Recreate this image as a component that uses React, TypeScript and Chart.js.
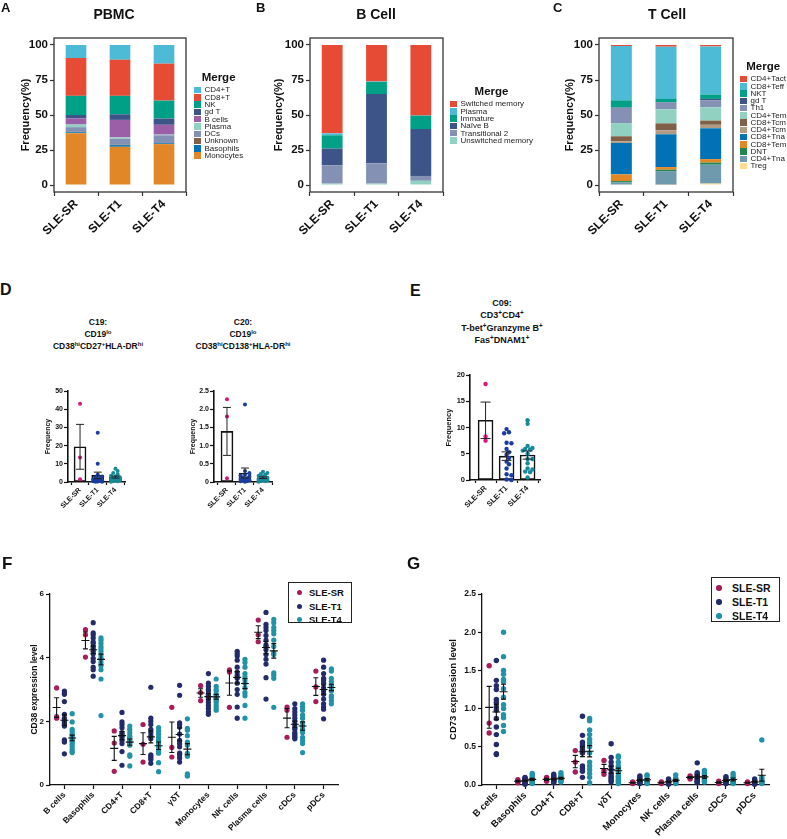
import React, { useEffect, useRef } from "react";
import { Chart, registerables } from "chart.js";

Chart.register(...registerables);

const FONT = "'Liberation Sans', Arial, Helvetica, sans-serif";
Chart.defaults.font.family = FONT;

// ---------- composition (stacked bars, values listed bottom to top) ----------
const stackGroups = ["SLE-SR", "SLE-T1", "SLE-T4"];

const pbmcTypes = ["Monocytes", "Basophils", "Unknown", "DCs", "Plasma", "B cells", "gd T", "NK", "CD8+T", "CD4+T"];
const pbmcColors = ["#E18727", "#0072B5", "#7E6148", "#8491B4", "#91D1C2", "#9B5FA8", "#3C5488", "#00A087", "#E64B35", "#4DBBD5"];
const pbmcSR = [37, 0.7, 0.3, 3.3, 1.9, 4.3, 2.5, 13.7, 27, 9.3];
const pbmcT1 = [27.3, 1.2, 0.3, 4.2, 1.0, 12.5, 4, 13.2, 25.8, 10.5];
const pbmcT4 = [29.2, 0.6, 0.2, 5.5, 0.5, 7, 4.5, 12.8, 26.4, 13.3];

const bcellTypes = ["Unswitched memory", "Transitional 2", "Naïve B", "Immature", "Plasma", "Switched memory"];
const bcellColors = ["#91D1C2", "#8491B4", "#3C5488", "#00A087", "#4DBBD5", "#E64B35"];
const bcellSR = [1, 13, 12, 9.5, 1.4, 63.1];
const bcellT1 = [1, 14.5, 49.5, 8.7, 0.3, 26];
const bcellT4 = [3, 3.5, 33.5, 9.5, 0.2, 50.3];

const tcellTypes = ["Treg", "CD4+Tna", "DNT", "CD8+Tem", "CD8+Tna", "CD4+Tcm", "CD8+Tcm", "CD4+Tem", "Th1", "gd T", "NKT", "CD8+Teff", "CD4+Tact"];
const tcellColors = ["#FFDC91", "#6F99AD", "#20854E", "#E18727", "#0072B5", "#B09C85", "#7E6148", "#91D1C2", "#8491B4", "#3C5488", "#00A087", "#4DBBD5", "#E64B35"];
const tcellSR = [0.3, 1.5, 1.0, 4.8, 22.4, 1.2, 3.6, 9.4, 10.9, 0.2, 5.2, 38.8, 0.7];
const tcellT1 = [0.2, 9.7, 1.0, 1.9, 23.4, 2.8, 5.0, 10.1, 4.7, 0.3, 2.4, 37.3, 1.2];
const tcellT4 = [1, 13.5, 1.5, 2.5, 22, 2.5, 3, 9.5, 5, 1, 3, 34.5, 1];

// ---------- cluster frequencies (per sample) ----------
const c19SR = [43, 13.5, 1.5];
const c19T1 = [27, 10, 4, 3, 2.5, 2, 1.5, 1.2, 1, 0.8, 0.5, 0.4, 0.3, 0.2, 0.1];
const c19T4 = [7.3, 6.0, 5.0, 4.2, 3.5, 3.0, 2.6, 2.2, 1.8, 1.5, 1.2, 0.9, 0.6, 0.4, 0.2];

const c20SR = [2.27, 1.8, 0.1];
const c20T1 = [2.13, 0.3, 0.25, 0.2, 0.18, 0.15, 0.12, 0.1, 0.08, 0.06, 0.05, 0.04, 0.03, 0.02, 0.01];
const c20T4 = [0.28, 0.25, 0.22, 0.2, 0.17, 0.15, 0.12, 0.1, 0.08, 0.06, 0.05, 0.04, 0.03, 0.02, 0.01];

const c09SR = [18.3, 8.3, 7.5];
const c09T1 = [9.7, 9.1, 8.9, 7.1, 7.0, 5.9, 5.3, 4.8, 4.2, 3.5, 3.0, 2.2, 1.1, 0.9, 0.1, 0.0];
const c09T4 = [11.4, 10.7, 6.5, 6.1, 5.9, 5.8, 5.6, 5.0, 4.0, 4.0, 3.2, 2.2, 2.0, 1.6, 1.5, 0.5];

const prismColors = ["#D4177A", "#1A3E9F", "#18899A"];

// ---------- CD38 / CD73 expression per cell type ----------
const cellTypes = ["B cells", "Basophils", "CD4+T", "CD8+T", "γδT", "Monocytes", "NK cells", "Plasma cells", "cDCs", "pDCs"];
const exprGroups = ["SLE-SR", "SLE-T1", "SLE-T4"];
const exprColors = ["#A81C58", "#232B68", "#2292A7"];

const cd38SR = [
  [3.05, 2.15, 2.1],
  [4.88, 4.72, 4.02],
  [1.7, 1.32, 0.43],
  [1.9, 1.28, 0.72],
  [2.44, 1.18, 0.88],
  [3.12, 2.9, 2.65],
  [3.62, 3.55, 2.44],
  [5.18, 4.72, 4.5],
  [2.45, 2.35, 1.5],
  [3.58, 3.08, 2.62],
];
const cd38T1 = [
  [2.95, 2.9, 2.85, 2.62, 2.22, 2.1, 2.02, 1.95, 1.9, 1.85, 1.42, 1.38, 1.35, 0.98],
  [5.1, 4.78, 4.72, 4.62, 4.5, 4.45, 4.35, 4.28, 4.2, 4.12, 3.98, 3.88, 3.7, 3.62, 3.42],
  [2.28, 1.98, 1.9, 1.8, 1.65, 1.6, 1.55, 1.5, 1.4, 1.3, 1.05, 0.62],
  [3.07, 2.1, 2.0, 1.9, 1.75, 1.65, 1.55, 1.45, 0.95, 0.9, 0.85, 0.8, 0.68],
  [3.13, 2.82, 1.95, 1.9, 1.82, 1.6, 1.4, 1.3, 1.2, 1.0, 0.95, 0.85, 0.72],
  [3.5, 3.2, 3.1, 3.0, 2.95, 2.85, 2.8, 2.75, 2.7, 2.6, 2.5, 2.4, 2.3, 2.22],
  [4.2, 4.12, 4.05, 3.92, 3.7, 3.55, 3.45, 3.35, 3.2, 3.0, 2.85, 2.45, 2.1],
  [5.42, 5.05, 4.95, 4.85, 4.7, 4.55, 4.4, 4.35, 4.25, 4.1, 3.95, 3.8, 3.37, 2.7],
  [2.55, 2.4, 2.3, 2.2, 2.1, 2.0, 1.9, 1.8, 1.75, 1.65, 1.6, 1.55, 1.5, 1.45],
  [3.92, 3.7, 3.5, 3.35, 3.3, 3.2, 3.05, 2.95, 2.85, 2.7, 2.55, 2.45, 2.38, 2.08],
];
const cd38T4 = [
  [2.24, 1.98, 1.75, 1.68, 1.6, 1.55, 1.5, 1.45, 1.4, 1.35, 1.28, 1.2, 1.12, 1.05, 1.02],
  [4.62, 4.55, 4.45, 4.35, 4.28, 4.2, 4.1, 4.0, 3.95, 3.85, 3.75, 3.62, 3.33, 2.18],
  [1.85, 1.75, 1.65, 1.55, 1.5, 1.45, 1.4, 1.35, 1.3, 1.25, 0.95, 0.9, 0.6],
  [1.8, 1.7, 1.6, 1.5, 1.4, 1.3, 1.2, 1.1, 1.05, 1.0, 0.7, 0.42],
  [2.08, 1.78, 1.72, 1.55, 1.35, 1.25, 1.0, 0.95, 0.9, 0.35, 0.3, 0.28],
  [3.33, 3.1, 3.0, 2.95, 2.85, 2.8, 2.75, 2.7, 2.65, 2.6, 2.5, 2.42, 2.35],
  [3.95, 3.85, 3.7, 3.5, 3.4, 3.3, 3.2, 3.05, 2.9, 2.8, 2.5, 2.1],
  [5.2, 5.1, 4.95, 4.85, 4.75, 4.55, 4.35, 4.15, 4.1, 3.52, 3.45, 3.35, 2.44],
  [2.55, 2.45, 2.35, 2.2, 2.1, 1.95, 1.85, 1.75, 1.65, 1.5, 1.4, 1.3, 1.02],
  [3.65, 3.58, 3.35, 3.25, 3.15, 3.1, 3.0, 2.95, 2.8, 2.75, 2.65, 2.55],
];

const cd73SR = [
  [1.56, 0.81, 0.68],
  [0.07, 0.05, 0.03],
  [0.1, 0.07, 0.05],
  [0.45, 0.3, 0.17],
  [0.32, 0.19, 0.14],
  [0.04, 0.03, 0.02],
  [0.04, 0.03, 0.02],
  [0.12, 0.1, 0.08],
  [0.05, 0.03, 0.02],
  [0.04, 0.03, 0.02],
];
const cd73T1 = [
  [1.63, 1.37, 1.3, 1.25, 1.12, 1.08, 1.02, 0.98, 0.87, 0.76, 0.66, 0.53, 0.41, 0.4],
  [0.1, 0.09, 0.08, 0.07, 0.06, 0.05, 0.04, 0.03, 0.02, 0.01],
  [0.14, 0.12, 0.1, 0.09, 0.08, 0.07, 0.06, 0.05, 0.04, 0.03],
  [0.9, 0.65, 0.56, 0.53, 0.5, 0.47, 0.45, 0.42, 0.25, 0.22, 0.18, 0.1],
  [0.54, 0.36, 0.3, 0.25, 0.2, 0.15, 0.12, 0.1, 0.08, 0.06, 0.04],
  [0.12, 0.1, 0.08, 0.06, 0.05, 0.04, 0.03, 0.02],
  [0.08, 0.07, 0.05, 0.04, 0.03, 0.02, 0.01],
  [0.29, 0.16, 0.14, 0.12, 0.1, 0.08, 0.06, 0.05, 0.04, 0.03],
  [0.11, 0.09, 0.07, 0.05, 0.04, 0.03, 0.02],
  [0.08, 0.06, 0.05, 0.04, 0.03, 0.02, 0.01],
];
const cd73T4 = [
  [2.0, 1.68, 1.5, 1.45, 1.38, 1.35, 1.26, 1.15, 1.05, 1.0, 0.92, 0.88, 0.78, 0.7],
  [0.15, 0.13, 0.1, 0.08, 0.07, 0.06, 0.05, 0.04, 0.03, 0.02],
  [0.16, 0.13, 0.11, 0.09, 0.08, 0.07, 0.06, 0.05, 0.04],
  [0.87, 0.84, 0.72, 0.66, 0.6, 0.55, 0.5, 0.42, 0.3, 0.25, 0.2, 0.15, 0.1, 0.03],
  [0.38, 0.36, 0.3, 0.25, 0.22, 0.2, 0.16, 0.12, 0.1, 0.07, 0.05, 0.02],
  [0.13, 0.12, 0.08, 0.06, 0.04, 0.03, 0.02],
  [0.13, 0.09, 0.07, 0.05, 0.04, 0.03, 0.02],
  [0.19, 0.16, 0.14, 0.11, 0.09, 0.07, 0.05, 0.04],
  [0.15, 0.12, 0.09, 0.06, 0.04, 0.03, 0.02],
  [0.59, 0.1, 0.07, 0.05, 0.04, 0.03, 0.02],
];

// ---------- helpers ----------
type Box = { left: number; top: number; width: number; height: number };
type Area = { l: number; t: number; r: number; b: number };

// Pins the plot area of a chart to fixed page coordinates.
function fitLayout(box: Box, area: Area, padLeft: number) {
  return {
    padding: { left: padLeft, top: area.t - box.top, right: box.left + box.width - area.r, bottom: 0 },
    yWidth: area.l - box.left - padLeft,
    xHeight: box.top + box.height - area.b,
  };
}

function meanSem(values: number[]) {
  const n = values.length;
  const mean = values.reduce((a, b) => a + b, 0) / n;
  const sd = Math.sqrt(values.reduce((a, v) => a + (v - mean) * (v - mean), 0) / (n - 1));
  return { mean, sem: sd / Math.sqrt(n) };
}

// Horizontal offsets (px) for a dot column: dots with close values are spread
// sideways, but never further than maxSpread from the column centre.
function swarm(values: number[], pxPerY: number, dot: number, maxSpread: number): number[] {
  const idx = values.map((_, i) => i).sort((a, b) => values[b] - values[a]);
  const placed: [number, number][] = [];
  const out = new Array(values.length).fill(0);
  const step = dot * 0.55;
  const cands: number[] = [0];
  for (let k = 1; k * step <= maxSpread; k++) cands.push(k * step, -k * step);
  for (const i of idx) {
    const y = values[i] * pxPerY;
    let best = 0;
    let bestGap = -1;
    for (const x of cands) {
      const gap = placed.reduce((m, [px, py]) => Math.min(m, Math.hypot(px - x, py - y)), Infinity);
      if (gap >= dot * 0.75) { best = x; bestGap = Infinity; break; }
      if (gap > bestGap) { bestGap = gap; best = x; }
    }
    out[i] = best;
    placed.push([best, y]);
  }
  return out;
}

const framePlugin = {
  id: "frame",
  afterDraw(chart: any) {
    const { ctx, chartArea: a } = chart;
    ctx.save();
    ctx.strokeStyle = "#333";
    ctx.lineWidth = 1.3;
    ctx.strokeRect(a.left, a.top, a.right - a.left, a.bottom - a.top);
    ctx.restore();
  },
};

const errorBarPlugin = {
  id: "errorBars",
  afterDatasetsDraw(chart: any, _args: any, opts: any) {
    if (!opts || !opts.groups) return;
    const { ctx } = chart;
    const xs = chart.scales.x;
    const ys = chart.scales.y;
    ctx.save();
    ctx.strokeStyle = opts.color || "#111";
    ctx.lineWidth = opts.lineWidth || 1;
    for (const g of opts.groups as { x: number; values: number[] }[]) {
      const { mean, sem } = meanSem(g.values);
      const px = xs.getPixelForValue(g.x);
      const yTop = ys.getPixelForValue(mean + sem);
      const yBot = ys.getPixelForValue(Math.max(0, mean - sem));
      const yMid = ys.getPixelForValue(mean);
      ctx.beginPath();
      ctx.moveTo(px, yTop);
      ctx.lineTo(px, yBot);
      ctx.moveTo(px - opts.cap, yTop);
      ctx.lineTo(px + opts.cap, yTop);
      ctx.moveTo(px - opts.cap, yBot);
      ctx.lineTo(px + opts.cap, yBot);
      if (opts.meanHalf) {
        ctx.moveTo(px - opts.meanHalf, yMid);
        ctx.lineTo(px + opts.meanHalf, yMid);
      }
      ctx.stroke();
    }
    ctx.restore();
  },
};

function stackedConfig(types: string[], colors: string[], groups: number[][], box: Box, area: Area, padLeft: number) {
  const fit = fitLayout(box, area, padLeft);
  return {
    type: "bar",
    data: {
      labels: stackGroups,
      datasets: types.map((t, k) => ({
        label: t,
        data: groups.map((g) => g[k]),
        backgroundColor: colors[k],
        borderWidth: 0,
        categoryPercentage: 1,
        barPercentage: 0.47,
      })),
    },
    options: {
      responsive: false,
      animation: false,
      layout: { padding: fit.padding },
      plugins: { legend: { display: false }, tooltip: { enabled: false } },
      scales: {
        x: {
          stacked: true,
          grid: { display: true, drawOnChartArea: false, tickLength: 4, tickColor: "#333", tickWidth: 1.2 },
          border: { display: false },
          ticks: { minRotation: 45, maxRotation: 45, color: "#111", padding: 1, font: { size: 12, weight: "bold" } },
          afterFit: (s: any) => { s.height = fit.xHeight; },
        },
        y: {
          stacked: true,
          min: -5,
          max: 105,
          grid: { display: true, drawOnChartArea: false, tickLength: 4, tickColor: "#333", tickWidth: 1.2 },
          border: { display: false },
          ticks: { stepSize: 25, includeBounds: false, color: "#111", padding: 2, font: { size: 11.5, weight: "bold" } },
          title: { display: true, text: "Frequency(%)", color: "#111", font: { size: 11, weight: "bold" } },
          afterFit: (s: any) => { s.width = fit.yWidth; },
        },
      },
    },
    plugins: [framePlugin],
  };
}

function dotBarConfig(o: {
  box: Box; area: Area; padLeft: number; xMin: number; xMax: number;
  yMax: number; yStep: number; groups: number[][]; barPx: number; dotR: number; cap: number; font: number; spread: number;
}) {
  const fit = fitLayout(o.box, o.area, o.padLeft);
  const pxPerY = (o.area.b - o.area.t) / o.yMax;
  const pxPerX = (o.area.r - o.area.l) / (o.xMax - o.xMin);
  const stats = o.groups.map(meanSem);
  return {
    type: "bar",
    data: {
      datasets: [
        {
          type: "bar",
          data: stats.map((s, i) => ({ x: i + 1, y: s.mean })),
          backgroundColor: "#fff",
          borderColor: "#111",
          borderWidth: 1.6,
          borderSkipped: false,
          barThickness: o.barPx,
          grouped: false,
          order: 3,
        },
        ...o.groups.map((vals, g) => {
          const offs = swarm(vals, pxPerY, o.dotR * 2, o.spread);
          return {
            type: "scatter",
            data: vals.map((v, k) => ({ x: g + 1 + offs[k] / pxPerX, y: v })),
            backgroundColor: prismColors[g],
            borderWidth: 0,
            pointRadius: o.dotR,
            order: 1,
            clip: false,
          };
        }),
      ],
    },
    options: {
      responsive: false,
      animation: false,
      layout: { padding: fit.padding },
      plugins: {
        legend: { display: false },
        tooltip: { enabled: false },
        errorBars: { groups: o.groups.map((v, i) => ({ x: i + 1, values: v })), cap: o.cap, lineWidth: 1, color: "#222" },
      },
      scales: {
        x: {
          type: "linear",
          min: o.xMin,
          max: o.xMax,
          offset: false,
          afterBuildTicks: (s: any) => { s.ticks = [1, 2, 3].map((v) => ({ value: v })); },
          grid: { display: true, drawOnChartArea: false, tickLength: 3, tickColor: "#111", tickWidth: 1.2 },
          border: { color: "#111", width: 1.6 },
          ticks: {
            autoSkip: false, minRotation: 45, maxRotation: 45, color: "#111", padding: 1,
            font: { size: o.font, weight: "bold" },
            callback: (v: number) => stackGroups[Math.round(v) - 1],
          },
          afterFit: (s: any) => { s.height = fit.xHeight; },
        },
        y: {
          min: 0,
          max: o.yMax,
          grid: { display: true, drawOnChartArea: false, tickLength: 4, tickColor: "#111", tickWidth: 1.2 },
          border: { color: "#111", width: 1.6 },
          ticks: { stepSize: o.yStep, color: "#111", padding: 1, font: { size: o.font, weight: "bold" } },
          title: { display: true, text: "Frequency", color: "#111", font: { size: o.font, weight: "bold" } },
          afterFit: (s: any) => { s.width = fit.yWidth; },
        },
      },
    },
    plugins: [errorBarPlugin],
  };
}

function exprConfig(o: {
  box: Box; area: Area; padLeft: number; yMax: number; yStep: number; decimals: number;
  title: string; sets: number[][][]; offset: number; dotR: number;
  tickFont: number; xFont: number; titleFont: number;
}) {
  const fit = fitLayout(o.box, o.area, o.padLeft);
  const offs = [-o.offset, 0, o.offset];
  const groups: { x: number; values: number[] }[] = [];
  o.sets.forEach((set, g) => set.forEach((vals, i) => groups.push({ x: i + offs[g], values: vals })));
  return {
    type: "scatter",
    data: {
      datasets: o.sets.map((set, g) => ({
        label: exprGroups[g],
        data: set.flatMap((vals, i) => vals.map((v) => ({ x: i + offs[g], y: v }))),
        backgroundColor: exprColors[g],
        borderWidth: 0,
        pointRadius: o.dotR,
        clip: false,
      })),
    },
    options: {
      responsive: false,
      animation: false,
      layout: { padding: fit.padding },
      plugins: {
        legend: { display: false },
        tooltip: { enabled: false },
        errorBars: { groups, cap: 2.5, meanHalf: 4, lineWidth: 1.1, color: "#111" },
      },
      scales: {
        x: {
          type: "linear",
          min: -0.5,
          max: 9.5,
          afterBuildTicks: (s: any) => { s.ticks = cellTypes.map((_, i) => ({ value: i })); },
          grid: { display: true, drawOnChartArea: false, tickLength: 4, tickColor: "#111", tickWidth: 1.2 },
          border: { color: "#111", width: 1.3 },
          ticks: {
            autoSkip: false, minRotation: 45, maxRotation: 45, color: "#111", padding: 1,
            font: { size: o.xFont, weight: "bold" },
            callback: (v: number) => cellTypes[Math.round(v)],
          },
          afterFit: (s: any) => { s.height = fit.xHeight; },
        },
        y: {
          min: 0,
          max: o.yMax,
          grid: { display: true, drawOnChartArea: false, tickLength: 4, tickColor: "#111", tickWidth: 1.2 },
          border: { color: "#111", width: 1.3 },
          ticks: {
            stepSize: o.yStep, color: "#111", padding: 2, font: { size: o.tickFont, weight: "bold" },
            callback: (v: number) => v.toFixed(o.decimals),
          },
          title: { display: true, text: o.title, color: "#111", font: { size: o.titleFont, weight: "bold" } },
          afterFit: (s: any) => { s.width = fit.yWidth; },
        },
      },
    },
    plugins: [errorBarPlugin],
  };
}

// ---------- components ----------
function ChartBox({ box, config }: { box: Box; config: () => any }) {
  const ref = useRef<HTMLCanvasElement>(null);
  useEffect(() => {
    const chart = new Chart(ref.current as HTMLCanvasElement, config());
    return () => chart.destroy();
  }, []);
  return (
    <canvas
      ref={ref}
      width={box.width}
      height={box.height}
      style={{ position: "absolute", left: box.left, top: box.top, width: box.width, height: box.height, display: "block" }}
    />
  );
}

function Text({ left, top, size, children, bold = true }: any) {
  return (
    <div style={{ position: "absolute", left, top, fontSize: size, fontWeight: bold ? "bold" : "normal", fontFamily: FONT, color: "#111", lineHeight: 1, whiteSpace: "nowrap" }}>
      {children}
    </div>
  );
}

function CenteredLines({ cx, top, size, lineH, lines }: { cx: number; top: number; size: number; lineH: number; lines: React.ReactNode[] }) {
  return (
    <div style={{ position: "absolute", left: cx - 100, top, width: 200, textAlign: "center", fontFamily: FONT, fontWeight: "bold", fontSize: size, color: "#111" }}>
      {lines.map((l, i) => (
        <div key={i} style={{ height: lineH, lineHeight: `${lineH}px` }}>{l}</div>
      ))}
    </div>
  );
}

const Sup = ({ children }: any) => <sup style={{ fontSize: "0.7em", lineHeight: 0, verticalAlign: "0.45em" }}>{children}</sup>;

function MergeLegend({ left, top, labels, colors, rowH }: { left: number; top: number; labels: string[]; colors: string[]; rowH: number }) {
  return (
    <div style={{ position: "absolute", left, top, display: "inline-block", fontFamily: FONT }}>
      <div style={{ fontWeight: "bold", fontSize: 11.5, lineHeight: "14px", textAlign: "center", color: "#111", marginBottom: 2.4 }}>Merge</div>
      {labels.map((l, i) => (
        <div key={l} style={{ display: "flex", alignItems: "center", height: rowH, fontSize: 8, lineHeight: `${rowH}px`, color: "#222", whiteSpace: "nowrap" }}>
          <span style={{ width: 6.5, height: 6.5, background: colors[i], marginRight: 4, flex: "none" }} />
          {l}
        </div>
      ))}
    </div>
  );
}

function GroupLegend({ left, top, width, height, rowH, dotX, textX, font, dot }: any) {
  return (
    <div style={{ position: "absolute", left, top, width, height, border: "1.6px solid #222", boxSizing: "border-box", fontFamily: FONT, background: "#fff" }}>
      {exprGroups.map((g, i) => (
        <div key={g} style={{ position: "absolute", left: 0, top: 3 + i * rowH, height: rowH, width: "100%" }}>
          <span style={{ position: "absolute", left: dotX - dot / 2, top: rowH / 2 - dot / 2, width: dot, height: dot, borderRadius: "50%", background: exprColors[i] }} />
          <span style={{ position: "absolute", left: textX, top: 0, lineHeight: `${rowH}px`, fontSize: font, fontWeight: "bold", color: "#111" }}>{g}</span>
        </div>
      ))}
    </div>
  );
}

const rev = <T,>(a: T[]) => a.slice().reverse();

export default function App() {
  const boxA = { left: 0, top: 0, width: 258, height: 250 };
  const boxB = { left: 258, top: 0, width: 266, height: 250 };
  const boxC = { left: 524, top: 0, width: 263, height: 250 };
  const boxD1 = { left: 20, top: 378, width: 125, height: 142 };
  const boxD2 = { left: 170, top: 378, width: 120, height: 142 };
  const boxE = { left: 420, top: 362, width: 140, height: 158 };
  const boxF = { left: 0, top: 570, width: 390, height: 269 };
  const boxG = { left: 400, top: 570, width: 387, height: 269 };

  return (
    <div style={{ position: "absolute", left: 0, top: 0, width: 787, height: 839, background: "#fff", overflow: "hidden" }}>
      <ChartBox box={boxA} config={() => stackedConfig(pbmcTypes, pbmcColors, [pbmcSR, pbmcT1, pbmcT4], boxA, { l: 54, t: 38, r: 186, b: 192 }, 15)} />
      <ChartBox box={boxB} config={() => stackedConfig(bcellTypes, bcellColors, [bcellSR, bcellT1, bcellT4], boxB, { l: 310, t: 38, r: 443, b: 192 }, 10)} />
      <ChartBox box={boxC} config={() => stackedConfig(tcellTypes, tcellColors, [tcellSR, tcellT1, tcellT4], boxC, { l: 599, t: 38, r: 733, b: 192 }, 35)} />

      <ChartBox box={boxD1} config={() => dotBarConfig({ box: boxD1, area: { l: 68, t: 391, r: 125, b: 482 }, padLeft: 20, xMin: 0.32, xMax: 3.54, yMax: 50, yStep: 10, groups: [c19SR, c19T1, c19T4], barPx: 12, dotR: 2, cap: 4, font: 7, spread: 5 })} />
      <ChartBox box={boxD2} config={() => dotBarConfig({ box: boxD2, area: { l: 214, t: 391, r: 272, b: 482 }, padLeft: 15, xMin: 0.28, xMax: 3.5, yMax: 2.5, yStep: 0.5, groups: [c20SR, c20T1, c20T4], barPx: 12, dotR: 2, cap: 4, font: 7, spread: 5 })} />
      <ChartBox box={boxE} config={() => dotBarConfig({ box: boxE, area: { l: 470, t: 375, r: 540, b: 480 }, padLeft: 20, xMin: 0.26, xMax: 3.59, yMax: 20, yStep: 5, groups: [c09SR, c09T1, c09T4], barPx: 15, dotR: 2.2, cap: 5, font: 7.5, spread: 7 })} />

      <ChartBox box={boxF} config={() => exprConfig({ box: boxF, area: { l: 50, t: 594, r: 338, b: 785 }, padLeft: 26, yMax: 6, yStep: 2, decimals: 0, title: "CD38 expression level", sets: [cd38SR, cd38T1, cd38T4], offset: 0.27, dotR: 2.6, tickFont: 8, xFont: 8.5, titleFont: 8.5 })} />
      <ChartBox box={boxG} config={() => exprConfig({ box: boxG, area: { l: 482, t: 594, r: 769, b: 785 }, padLeft: 44, yMax: 2.5, yStep: 0.5, decimals: 1, title: "CD73 expression level", sets: [cd73SR, cd73T1, cd73T4], offset: 0.25, dotR: 2.7, tickFont: 8.5, xFont: 9.5, titleFont: 9.5 })} />

      {/* panel letters */}
      <Text left={1} top={1} size={13}>A</Text>
      <Text left={256} top={1} size={13}>B</Text>
      <Text left={553} top={1} size={13}>C</Text>
      <Text left={0} top={282} size={16}>D</Text>
      <Text left={410} top={283} size={16}>E</Text>
      <Text left={2} top={555} size={17}>F</Text>
      <Text left={407} top={555} size={17}>G</Text>

      {/* stacked-bar titles */}
      <CenteredLines cx={114} top={5} size={14} lineH={18} lines={["PBMC"]} />
      <CenteredLines cx={376} top={5} size={14} lineH={18} lines={["B Cell"]} />
      <CenteredLines cx={667} top={5} size={14} lineH={18} lines={["T Cell"]} />

      <MergeLegend left={194} top={70} labels={rev(pbmcTypes)} colors={rev(pbmcColors)} rowH={7.3} />
      <MergeLegend left={450} top={84} labels={rev(bcellTypes)} colors={rev(bcellColors)} rowH={7.3} />
      <MergeLegend left={740} top={59} labels={rev(tcellTypes)} colors={rev(tcellColors)} rowH={7.25} />

      {/* cluster titles */}
      <CenteredLines cx={98} top={316} size={8.5} lineH={12} lines={[
        "C19:",
        <>CD19<Sup>lo</Sup></>,
        <>CD38<Sup>hi</Sup>CD27<Sup>+</Sup>HLA-DR<Sup>hi</Sup></>,
      ]} />
      <CenteredLines cx={243} top={316} size={8.5} lineH={12} lines={[
        "C20:",
        <>CD19<Sup>lo</Sup></>,
        <>CD38<Sup>hi</Sup>CD138<Sup>+</Sup>HLA-DR<Sup>hi</Sup></>,
      ]} />
      <CenteredLines cx={502} top={297} size={9} lineH={12.3} lines={[
        "C09:",
        <>CD3<Sup>+</Sup>CD4<Sup>+</Sup></>,
        <>T-bet<Sup>+</Sup>Granzyme B<Sup>+</Sup></>,
        <>Fas<Sup>+</Sup>DNAM1<Sup>+</Sup></>,
      ]} />

      <GroupLegend left={288} top={582} width={64} height={41} rowH={13.5} dotX={10} textX={20} font={9.5} dot={5} />
      <GroupLegend left={711} top={577} width={69} height={45} rowH={14} dotX={7} textX={20} font={10.5} dot={5.5} />
    </div>
  );
}
